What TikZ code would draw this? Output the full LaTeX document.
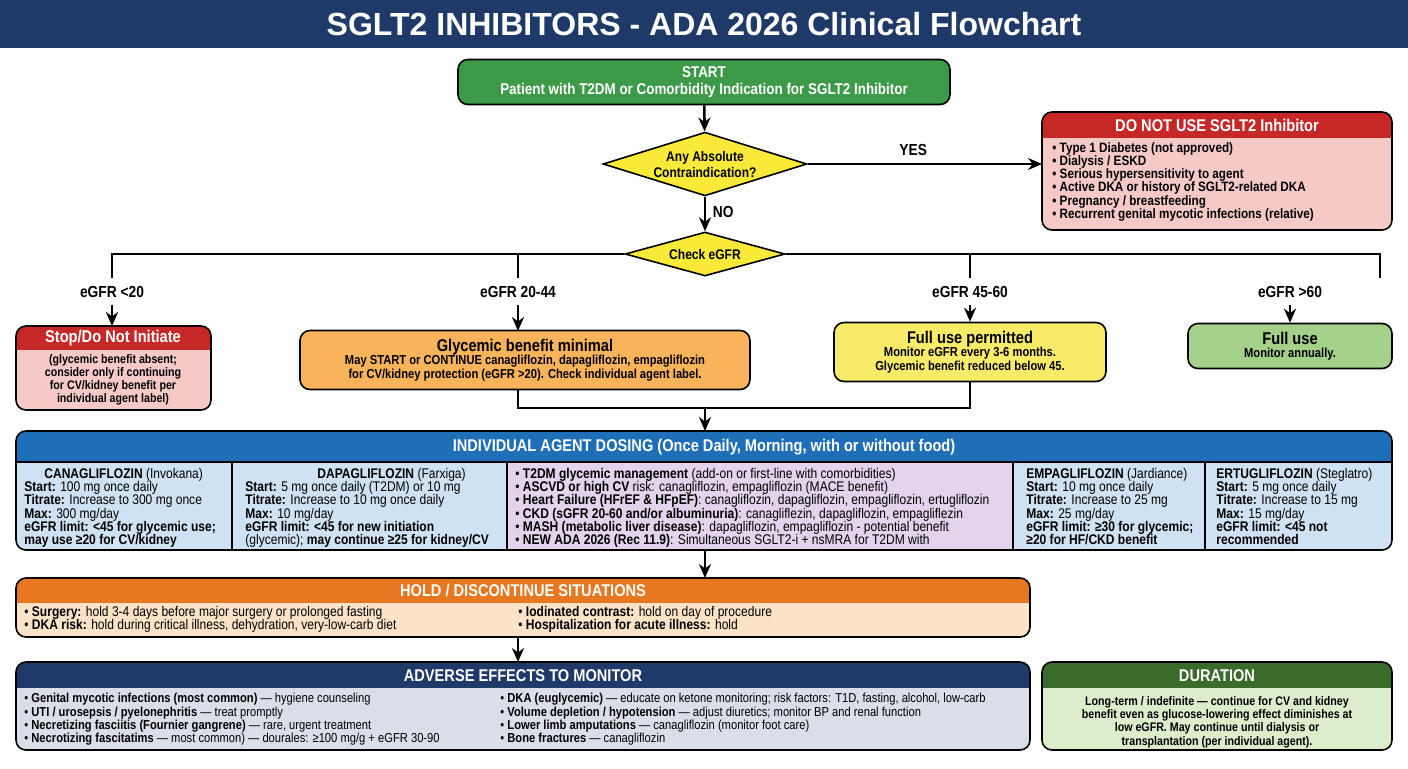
\documentclass[tikz,border=0pt]{standalone}
\usepackage{fontspec}
\setmainfont{Liberation Sans}[FakeStretch=0.86]
\newfontfamily\titlefont{Liberation Sans}
\usetikzlibrary{shapes.geometric,arrows.meta,positioning}
\definecolor{navy}{HTML}{1F3A68}
\definecolor{startgreen}{HTML}{3C9A48}
\definecolor{dyellow}{HTML}{F9EA3A}
\definecolor{dred}{HTML}{C62828}
\definecolor{lpink}{HTML}{F5C9C6}
\definecolor{lorange}{HTML}{F9B35A}
\definecolor{lyellow}{HTML}{F9EB6A}
\definecolor{lgreen}{HTML}{A5D08A}
\definecolor{dblue}{HTML}{1F6FB8}
\definecolor{lblue}{HTML}{CFE2F3}
\definecolor{lpurple}{HTML}{E3D3EC}
\definecolor{dorange}{HTML}{E87722}
\definecolor{lpeach}{HTML}{FCE3C8}
\definecolor{lgrey}{HTML}{D9DEE8}
\definecolor{dgreen}{HTML}{3A6B2A}
\definecolor{lmint}{HTML}{DCEDCB}
\tikzset{
  arr/.style={-{Stealth[length=7pt,width=6pt]}, line width=1.3pt},
  ln/.style={line width=1.3pt},
  dia/.style={diamond, draw, thick, fill=dyellow, aspect=3.2, inner sep=1pt, font=\bfseries\fontsize{7}{8}\selectfont, align=center},
  lbl/.style={font=\bfseries\fontsize{8}{9}\selectfont},
  hd/.style={text=white, font=\bfseries\fontsize{8.5}{9.5}\selectfont},
  bd/.style={anchor=north west, align=left, inner sep=0pt, font=\fontsize{7}{6.6}\selectfont},
  bdc/.style={anchor=north, align=center, inner sep=0pt, font=\bfseries\fontsize{6.2}{6.6}\selectfont},
}
% box with a coloured header band: x1,y1,x2,y2,header bottom,header colour,body colour
\newcommand{\headbox}[7]{%
  \begin{scope}
    \clip[rounded corners=5] (#1,#2) rectangle (#3,#4);
    \fill[#7] (#1,#2) rectangle (#3,#4);
    \fill[#6] (#1,#2) rectangle (#3,#5);
  \end{scope}
  \draw[thick, rounded corners=5] (#1,#2) rectangle (#3,#4);}
\begin{document}
\begin{tikzpicture}[x=0.5pt, y=-0.5pt]
  \useasboundingbox (0,0) rectangle (1408,768);
  % title
  \fill[navy] (0,0) rectangle (1408,48);
  \node[text=white, font=\titlefont\bfseries\fontsize{16}{18}\selectfont] (title) at (704,24) {SGLT2 INHIBITORS - ADA 2026 Clinical Flowchart};

  % start and decisions
  \node[draw, thick, rounded corners=5, fill=startgreen, text=white, minimum width=246pt, minimum height=22pt,
        font=\bfseries\fontsize{7.8}{8.8}\selectfont, align=center] (start) at (704,82)
        {START\\Patient with T2DM or Comorbidity Indication for SGLT2 Inhibitor};
  \node[dia, minimum width=98pt, minimum height=31pt] (contra) at (705,164) {Any Absolute\\Contraindication?};
  \node[dia, minimum width=80pt, minimum height=22pt] (egfr) at (705,254) {Check eGFR};

  % do not use
  \headbox{1042}{112}{1392}{230}{138}{dred}{lpink}
  \node[hd] (dnu) at (1217,125) {DO NOT USE SGLT2 Inhibitor};
  \node[bd, font=\bfseries\fontsize{6.8}{6.6}\selectfont] (dnutext) at (1052,142)
    {• Type 1 Diabetes (not approved)\\• Dialysis / ESKD\\• Serious hypersensitivity to agent\\• Active DKA or history of SGLT2-related DKA\\• Pregnancy / breastfeeding\\• Recurrent genital mycotic infections (relative)};
  \coordinate (dnuin) at (1042,164);

  \draw[arr] (start) -- (contra);
  \draw[arr] (contra.east) -- (dnuin) node[lbl, pos=0.45, above] (yes) {YES};
  \draw[arr] (contra.south) -- (egfr.north) node[lbl, pos=0.45, right] (no) {NO};

  % eGFR branches
  \coordinate (bA) at (112,254); \coordinate (bB) at (518,254);
  \coordinate (bC) at (970,254); \coordinate (bD) at (1380,254);
  \draw[ln] (egfr.west) -- (bA) -- (112,278);
  \draw[ln] (bB) -- (518,278);
  \draw[ln] (egfr.east) -- (bD) -- (1380,278);
  \draw[ln] (bC) -- (970,278);
  \node[lbl] (lA) at (112,292) {eGFR <20};
  \node[lbl] (lB) at (518,292) {eGFR 20-44};
  \node[lbl] (lC) at (970,292) {eGFR 45-60};
  \node[lbl] (lD) at (1290,292) {eGFR >60};

  \headbox{16}{326}{211}{410}{350}{dred}{lpink}
  \node[hd] (stop) at (113,338) {Stop/Do Not Initiate};
  \node[bdc] (stoptext) at (113,354) {(glycemic benefit absent;\\consider only if continuing\\for CV/kidney benefit per\\individual agent label)};
  \node[draw, thick, rounded corners=5, fill=lorange, minimum width=225pt, minimum height=29.5pt, align=center,
        font=\bfseries\fontsize{6.5}{6.8}\selectfont] (glyc) at (525,360)
    {{\fontsize{8.5}{9.5}\selectfont Glycemic benefit minimal}\\May START or CONTINUE canagliflozin, dapagliflozin, empagliflozin\\for CV/kidney protection (eGFR >20). Check individual agent label.};
  \node[draw, thick, rounded corners=5, fill=lyellow, minimum width=136pt, minimum height=29.5pt, align=center,
        font=\bfseries\fontsize{6.5}{6.8}\selectfont] (fullp) at (970,352)
    {{\fontsize{8.5}{9.5}\selectfont Full use permitted}\\Monitor eGFR every 3-6 months.\\Glycemic benefit reduced below 45.};
  \node[draw, thick, rounded corners=5, fill=lgreen, minimum width=102pt, minimum height=22.5pt, align=center,
        font=\bfseries\fontsize{6.5}{6.8}\selectfont] (full) at (1290,346)
    {{\fontsize{8.5}{9.5}\selectfont Full use}\\Monitor annually.};
  \draw[arr] (lA) -- (112,326);
  \draw[arr] (lB) -- (518,331);
  \draw[arr] (lC) -- (fullp);
  \draw[arr] (lD) -- (full);

  % merge
  \coordinate (mB) at (518,408); \coordinate (mC) at (970,408); \coordinate (mM) at (705,408);
  \draw[ln] (518,390) -- (mB) -- (mC) -- (fullp.south);
  \draw[arr] (mM) -- (705,431);

  % dosing
  \headbox{16}{431}{1392}{550}{462}{dblue}{lblue}
  \fill[lpurple] (507,462) rectangle (1013,549);
  \foreach \x in {232,507,1013,1205} \draw[thick] (\x,462) -- (\x,550);
  \draw[thick] (16,462) -- (1392,462);
  \node[hd] (dose) at (704,447) {INDIVIDUAL AGENT DOSING (Once Daily, Morning, with or without food)};
  \node[bd] (cana) at (24,468) {\hspace*{10pt}\textbf{CANAGLIFLOZIN} (Invokana)\\\textbf{Start:} 100 mg once daily\\\textbf{Titrate:} Increase to 300 mg once\\\textbf{Max:} 300 mg/day\\\textbf{eGFR limit: <45 for glycemic use;}\\\textbf{may use ≥20 for CV/kidney}};
  \node[bd] (dapa) at (245,468) {\hspace*{36pt}\textbf{DAPAGLIFLOZIN} (Farxiga)\\\textbf{Start:} 5 mg once daily (T2DM) or 10 mg\\\textbf{Titrate:} Increase to 10 mg once daily\\\textbf{Max:} 10 mg/day\\\textbf{eGFR limit: <45 for new initiation}\\(glycemic); \textbf{may continue ≥25 for kidney/CV}};
  \node[bd] (indic) at (515,468) {• \textbf{T2DM glycemic management} (add-on or first-line with comorbidities)\\• \textbf{ASCVD or high CV} risk: canagliflozin, empagliflozin (MACE benefit)\\• \textbf{Heart Failure (HFrEF \& HFpEF)}: canagliflozin, dapagliflozin, empagliflozin, ertugliflozin\\• \textbf{CKD (sGFR 20-60 and/or albuminuria)}: canagliflezin, dapagliflozin, empagliflezin\\• \textbf{MASH (metabolic liver disease)}: dapagliflozin, empagliflozin - potential benefit\\• \textbf{NEW ADA 2026 (Rec 11.9)}: Simultaneous SGLT2-i + nsMRA for T2DM with};
  \node[bd] (empa) at (1026,468) {\textbf{EMPAGLIFLOZIN} (Jardiance)\\\textbf{Start:} 10 mg once daily\\\textbf{Titrate:} Increase to 25 mg\\\textbf{Max:} 25 mg/day\\\textbf{eGFR limit: ≥30 for glycemic;}\\\textbf{≥20 for HF/CKD benefit}};
  \node[bd] (ertu) at (1216,468) {\textbf{ERTUGLIFLOZIN} (Steglatro)\\\textbf{Start:} 5 mg once daily\\\textbf{Titrate:} Increase to 15 mg\\\textbf{Max:} 15 mg/day\\\textbf{eGFR limit: <45 not}\\\textbf{recommended}};
  \coordinate (doseout) at (705,550);

  % hold
  \headbox{16}{578}{1030}{637}{603}{dorange}{lpeach}
  \node[hd] (hold) at (523,590) {HOLD / DISCONTINUE SITUATIONS};
  \node[bd] (hold1) at (24,606) {• \textbf{Surgery:} hold 3-4 days before major surgery or prolonged fasting\\• \textbf{DKA risk:} hold during critical illness, dehydration, very-low-carb diet};
  \node[bd] (hold2) at (518,606) {• \textbf{Iodinated contrast:} hold on day of procedure\\• \textbf{Hospitalization for acute illness:} hold};
  \draw[arr] (doseout) -- (705,578);
  \draw[arr] (518,637) -- (518,662);

  % adverse
  \headbox{16}{662}{1030}{750}{688}{navy}{lgrey}
  \node[hd] (adv) at (523,676) {ADVERSE EFFECTS TO MONITOR};
  \node[bd, font=\fontsize{6.5}{6.6}\selectfont] (adv1) at (24,693) {• \textbf{Genital mycotic infections (most common)} — hygiene counseling\\• \textbf{UTI / urosepsis / pyelonephritis} — treat promptly\\• \textbf{Necretizing fasciitis (Fournier gangrene)} — rare, urgent treatment\\• \textbf{Necrotizing fascitatims} — most common) — dourales: ≥100 mg/g + eGFR 30-90};
  \node[bd, font=\fontsize{6.5}{6.6}\selectfont] (adv2) at (500,693) {• \textbf{DKA (euglycemic)} — educate on ketone monitoring; risk factors: T1D, fasting, alcohol, low-carb\\• \textbf{Volume depletion / hypotension} — adjust diuretics; monitor BP and renal function\\• \textbf{Lower limb amputations} — canagliflozin (monitor foot care)\\• \textbf{Bone fractures} — canagliflozin};

  % duration
  \headbox{1042}{662}{1392}{750}{688}{dgreen}{lmint}
  \node[hd] (dur) at (1217,676) {DURATION};
  \node[bdc] (durtext) at (1217,696) {Long-term / indefinite — continue for CV and kidney\\benefit even as glucose-lowering effect diminishes at\\low eGFR. May continue until dialysis or\\transplantation (per individual agent).};
\end{tikzpicture}
\end{document}
